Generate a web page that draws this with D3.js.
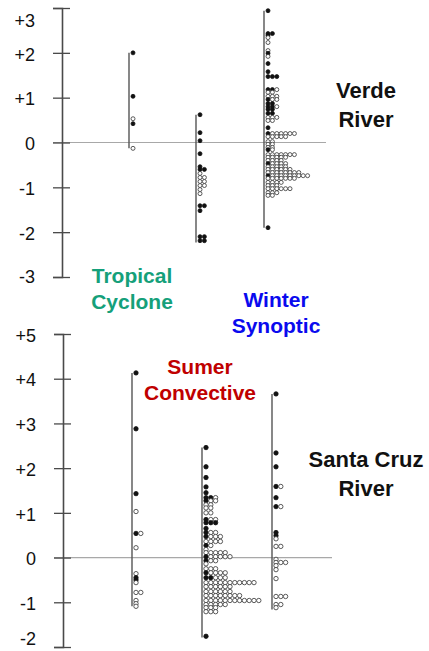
<!DOCTYPE html>
<html><head><meta charset="utf-8">
<script src="https://cdn.jsdelivr.net/npm/d3@7"></script>
<style>
html,body{margin:0;padding:0;background:#fff;}
svg{display:block;}
text{font-family:"Liberation Sans",Arial,sans-serif;}
</style></head>
<body>
<svg id="c" width="429" height="651"></svg>
<script>
// ---------- DATA ----------
const categories = ["Tropical Cyclone", "Summer Convective", "Winter Synoptic"];
const verdeTicks = [-3, -2, -1, 0, 1, 2, 3];
const cruzTicks = [-2, -1, 0, 1, 2, 3, 4, 5];
// each row: [anomaly value, dot types left->right] f = filled, o = open
const verdeTropical = [[2.0,"f"],[1.03,"f"],[0.53,"o"],[0.42,"f"],[-0.13,"o"]];
const verdeSummer = [[0.62,"f"],[0.22,"f"],[0.04,"f"],[-0.25,"f"],[-0.54,"f"],[-0.60,"ff"],
  [-0.69,"o"],[-0.78,"oo"],[-0.87,"oo"],[-0.96,"oo"],[-1.05,"o"],[-1.14,"o"],
  [-1.41,"ff"],[-1.52,"f"],[-2.10,"ff"],[-2.19,"ff"],[-2.23,""]];
const verdeWinter = [[2.94,"f"],[2.43,"ff"],[2.39,"f"],[2.34,"o"],[2.23,"o"],[2.05,"o"],[1.99,"f"],
  [1.92,"o"],[1.76,"f"],[1.58,"f"],[1.47,"fff"],[1.18,"ffo"],[1.12,"oo"],[1.03,"ooo"],
  [0.96,"foo"],[0.87,"ff"],[0.80,"ffo"],[0.74,"ff"],[0.65,"ff"],[0.56,"ooo"],[0.49,"oo"],
  [0.33,"f"],[0.20,"foooooo"],[0.13,"ooooo"],[0.02,"oo"],[-0.04,"oo"],[-0.11,"oo"],
  [-0.16,"fo"],[-0.27,"ooooooo"],[-0.33,"ooooo"],[-0.40,"oooo"],[-0.47,"foooo"],
  [-0.54,"ooooo"],[-0.60,"oooooo"],[-0.67,"oooooooo"],[-0.74,"fooooooooo"],
  [-0.80,"ooooooo"],[-0.89,"oooo"],[-0.96,"ooo"],[-1.03,"oooooo"],[-1.12,"ooo"],
  [-1.18,"oo"],[-1.90,"f"]];
const cruzTropical = [[4.13,"f"],[2.88,"f"],[1.43,"f"],[1.03,"o"],[0.54,"fo"],[0.22,"o"],
  [-0.36,"o"],[-0.45,"f"],[-0.50,"f"],[-0.56,"o"],[-0.78,"oo"],[-0.96,"o"],[-1.03,"o"],[-1.09,"o"]];
const cruzSummer = [[2.46,"f"],[2.03,"f"],[1.79,"f"],[1.58,"f"],[1.45,"f"],[1.34,"ffo"],
  [1.27,"foo"],[1.18,"oo"],[1.11,"oo"],[1.00,"oo"],[0.85,"foo"],[0.78,"fff"],[0.65,"f"],
  [0.56,"foo"],[0.47,"fooo"],[0.36,"oooo"],[0.27,"fo"],[0.18,"o"],[0.11,"ooooo"],
  [0.02,"fooooo"],[-0.07,"foo"],[-0.14,"o"],[-0.25,"ooo"],[-0.34,"foooo"],[-0.45,"ffooo"],
  [-0.56,"ooooooooooo"],[-0.65,"oooooo"],[-0.76,"oooooo"],[-0.85,"oooooooo"],
  [-0.96,"oooooooooooo"],[-1.05,"ooooo"],[-1.12,"ooo"],[-1.21,"ooo"],[-1.76,"f"],[-1.79,""]];
const cruzWinter = [[3.66,"f"],[2.34,"f"],[2.03,"f"],[1.59,"fo"],[1.34,"f"],[1.14,"fo"],
  [0.56,"f"],[0.49,"f"],[0.42,"o"],[0.25,"oo"],[-0.04,"o"],[-0.11,"ooo"],[-0.18,"o"],
  [-0.27,"o"],[-0.47,"o"],[-0.87,"ooo"],[-1.05,"oo"],[-1.12,"o"],[-1.16,""]];

// ---------- DRAW ----------
const svg = d3.select("#c");

function panel(cfg) {
  const y = d3.scaleLinear().domain(cfg.domain).range(cfg.range);
  const x = d3.scaleOrdinal().domain(categories).range(cfg.colX);
  const g = svg.append("g");
  // zero line
  g.append("line").attr("x1", cfg.axisX - 9).attr("x2", cfg.zeroEnd)
    .attr("y1", y(0)).attr("y2", y(0)).attr("stroke", "#a8a8a8").attr("stroke-width", 1.2);
  // axis
  const ax = g.append("g").attr("transform", `translate(${cfg.axisX},0)`)
    .call(d3.axisLeft(y).tickValues(cfg.ticks).tickSizeOuter(0).tickSize(9).tickPadding(18)
      .tickFormat(d => d > 0 ? "+" + d : String(d)));
  ax.select(".domain").attr("stroke", "#4a4a4a").attr("stroke-width", 1.6);
  ax.selectAll(".tick line").attr("x1", 8).attr("x2", -9).attr("stroke", "#4a4a4a").attr("stroke-width", 1.3);
  ax.selectAll(".tick text").attr("font-size", 18).attr("fill", "#111")
    .style("font-family", "'Liberation Sans',Arial,sans-serif")
    .attr("dy", d => d === cfg.domain[1] ? cfg.topDy : (d === cfg.domain[0] ? cfg.bottomDy : "0.4em"));
  // columns
  cfg.series.forEach(([cat, rows]) => {
    const cx = x(cat);
    const ext = d3.extent(rows, r => r[0]);
    g.append("line").attr("x1", cx).attr("x2", cx).attr("y1", y(ext[1])).attr("y2", y(ext[0]))
      .attr("stroke", "#555").attr("stroke-width", 1.4);
    const dots = [];
    rows.forEach(([v, s]) => s.split("").forEach((t, i) => dots.push({v, t, i})));
    g.selectAll(null).data(dots).join("circle")
      .attr("cx", d => cx + cfg.dx0 + d.i * cfg.sp)
      .attr("cy", d => y(d.v))
      .attr("r", cfg.r)
      .attr("fill", d => d.t === "f" ? "#111" : "#fff")
      .attr("stroke", d => d.t === "f" ? "#111" : "#333")
      .attr("stroke-width", 0.8);
  });
}

panel({domain: [-3, 3], range: [277, 8], ticks: verdeTicks, axisX: 62, zeroEnd: 326,
  colX: [129, 196, 264], dx0: 4, sp: 4.4, r: 2, topDy: "1.0em", bottomDy: "0.3em",
  series: [["Tropical Cyclone", verdeTropical], ["Summer Convective", verdeSummer], ["Winter Synoptic", verdeWinter]]});
panel({domain: [-2, 5], range: [647, 334], ticks: cruzTicks, axisX: 63, zeroEnd: 332,
  colX: [132, 202, 272], dx0: 4, sp: 4.8, r: 2.2, topDy: "0.4em", bottomDy: "-0.15em",
  series: [["Tropical Cyclone", cruzTropical], ["Summer Convective", cruzSummer], ["Winter Synoptic", cruzWinter]]});

// labels
const labels = [
  {lines: ["Verde", "River"], x: 366, y: 98, dy: 29, color: "#111", size: 22},
  {lines: ["Santa Cruz", "River"], x: 366, y: 467, dy: 29, color: "#111", size: 22},
  {lines: ["Tropical", "Cyclone"], x: 132, y: 283, dy: 26, color: "#15a07a", size: 21},
  {lines: ["Winter", "Synoptic"], x: 276, y: 307, dy: 26, color: "#0a0aee", size: 21},
  {lines: ["Sumer", "Convective"], x: 200, y: 374, dy: 26, color: "#c00000", size: 21}
];
labels.forEach(l => {
  const t = svg.append("text").attr("text-anchor", "middle").attr("fill", l.color)
    .attr("font-weight", "bold").attr("font-size", l.size);
  l.lines.forEach((s, i) => t.append("tspan").attr("x", l.x).attr("y", l.y + i * l.dy).text(s));
});
</script>
</body></html>
